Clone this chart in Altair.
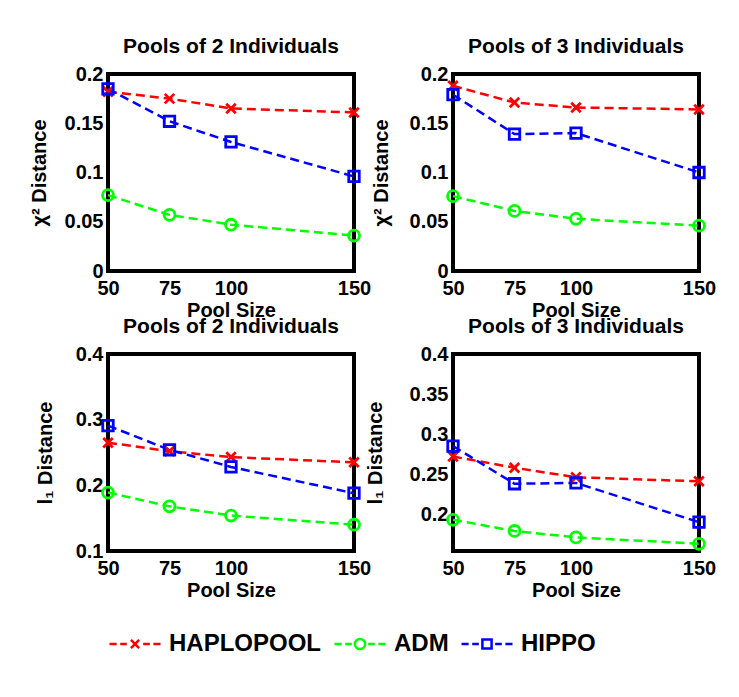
import altair as alt
import pandas as pd

pool_sizes = [50, 75, 100, 150]
series_names = ["HAPLOPOOL", "ADM", "HIPPO"]
series_colors = ["#ff0000", "#00ff00", "#0000ff"]

chi2_p2_haplopool = [0.182, 0.175, 0.165, 0.161]
chi2_p2_adm = [0.077, 0.057, 0.047, 0.036]
chi2_p2_hippo = [0.185, 0.152, 0.131, 0.096]

chi2_p3_haplopool = [0.188, 0.171, 0.166, 0.164]
chi2_p3_adm = [0.076, 0.061, 0.053, 0.046]
chi2_p3_hippo = [0.179, 0.139, 0.140, 0.100]

l1_p2_haplopool = [0.265, 0.252, 0.243, 0.235]
l1_p2_adm = [0.189, 0.168, 0.154, 0.140]
l1_p2_hippo = [0.291, 0.254, 0.228, 0.188]

l1_p3_haplopool = [0.272, 0.258, 0.246, 0.241]
l1_p3_adm = [0.193, 0.179, 0.171, 0.163]
l1_p3_hippo = [0.285, 0.238, 0.239, 0.190]

panel_titles = ["Pools of 2 Individuals", "Pools of 3 Individuals",
                "Pools of 2 Individuals", "Pools of 3 Individuals"]
y_titles = ["χ² Distance", "χ² Distance", "l₁ Distance", "l₁ Distance"]
y_domains = [[0, 0.2], [0, 0.2], [0.1, 0.4], [0.154, 0.4]]
y_ticks = [[0, 0.05, 0.1, 0.15, 0.2], [0, 0.05, 0.1, 0.15, 0.2],
           [0.1, 0.2, 0.3, 0.4], [0.2, 0.25, 0.3, 0.35, 0.4]]
y_title_x = [-69, -72, -63, -78]
panel_series = [
    [chi2_p2_haplopool, chi2_p2_adm, chi2_p2_hippo],
    [chi2_p3_haplopool, chi2_p3_adm, chi2_p3_hippo],
    [l1_p2_haplopool, l1_p2_adm, l1_p2_hippo],
    [l1_p3_haplopool, l1_p3_adm, l1_p3_hippo],
]

marker_shapes = ["M-1,-1L1,1M-1,1L1,-1", "circle", "square"]
marker_sizes = [90, 120, 110]

dash_l = "M-1,0H-0.72M-0.58,0H-0.32"
dash_r = "M0.32,0H0.58M0.72,0H1"
legend_paths = [
    dash_l + dash_r + "M-0.16,-0.16L0.16,0.16M-0.16,0.16L0.16,-0.16",
    dash_l + dash_r + "M0.2,0A0.2,0.2 0 1,1 -0.2,0A0.2,0.2 0 1,1 0.2,0",
    dash_l + dash_r + "M-0.18,-0.18H0.18V0.18H-0.18Z",
]

FONT = "Liberation Sans"

leg = alt.Legend(
    title=None, orient="none", legendX=0, legendY=543, direction="horizontal",
    symbolSize=2601, symbolStrokeWidth=2.5, labelFontSize=24, labelFont=FONT,
    labelFontWeight="bold", labelColor="black", labelOffset=7, columnPadding=7,
    padding=0,
)


def make_panel(i):
    rows = []
    for name, vals in zip(series_names, panel_series[i]):
        for p, v in zip(pool_sizes, vals):
            rows.append({"Pool": p, "Value": v, "Series": name})
    df = pd.DataFrame(rows)
    base = alt.Chart(df)
    x = alt.X("Pool:Q", scale=alt.Scale(domain=[50, 150], nice=False, zero=False),
              axis=alt.Axis(values=pool_sizes, title="Pool Size", labelPadding=7,
                            titlePadding=2))
    y = alt.Y("Value:Q", scale=alt.Scale(domain=y_domains[i], nice=False, zero=False),
              axis=alt.Axis(values=y_ticks[i], format="~g", title=y_titles[i],
                            titleX=y_title_x[i], titleY=98.5, titleAngle=270,
                            titleAlign="center", titleBaseline="middle",
                            labelPadding=5))
    color = alt.Color("Series:N", scale=alt.Scale(domain=series_names, range=series_colors),
                      legend=None)
    layers = []
    if i == 0:
        layers.append(
            base.transform_filter("datum.Pool < 0")
            .mark_point(filled=False, strokeWidth=2.5, opacity=1)
            .encode(
                x=x, y=y,
                color=alt.Color("Series:N",
                                scale=alt.Scale(domain=series_names, range=series_colors),
                                legend=leg),
                shape=alt.Shape("Series:N",
                                scale=alt.Scale(domain=series_names, range=legend_paths),
                                legend=leg),
            )
        )
    layers.append(base.mark_line(strokeDash=[9, 5], strokeWidth=2.5).encode(x=x, y=y, color=color))
    for name, shp, sz in zip(series_names, marker_shapes, marker_sizes):
        layers.append(
            base.transform_filter(alt.datum.Series == name)
            .mark_point(shape=shp, size=sz, filled=False, strokeWidth=2.8, opacity=1)
            .encode(x=x, y=y, color=color)
        )
    return alt.layer(*layers).properties(
        width=246, height=197,
        title=alt.TitleParams(panel_titles[i], offset=7),
    )


panels = [make_panel(i) for i in range(4)]

chart = (
    alt.concat(*panels, columns=2, spacing=alt.RowColnumber(row=83, column=99), bounds="flush")
    .properties(padding={"left": 19, "top": 26, "right": 5, "bottom": 5}, background="white")
    .configure_view(stroke="black", strokeWidth=4, fill=None)
    .configure_axis(grid=False, domain=False, ticks=False, labelFont=FONT, labelFontSize=20,
                    labelFontWeight="bold", labelColor="black", titleFont=FONT,
                    titleFontSize=20, titleFontWeight="bold", titleColor="black",
                    labelFlush=False, labelOverlap=False)
    .configure_title(font=FONT, fontSize=21, fontWeight="bold", color="black")
)

chart.save("out.html", embed_options={"renderer": "svg", "actions": False})
